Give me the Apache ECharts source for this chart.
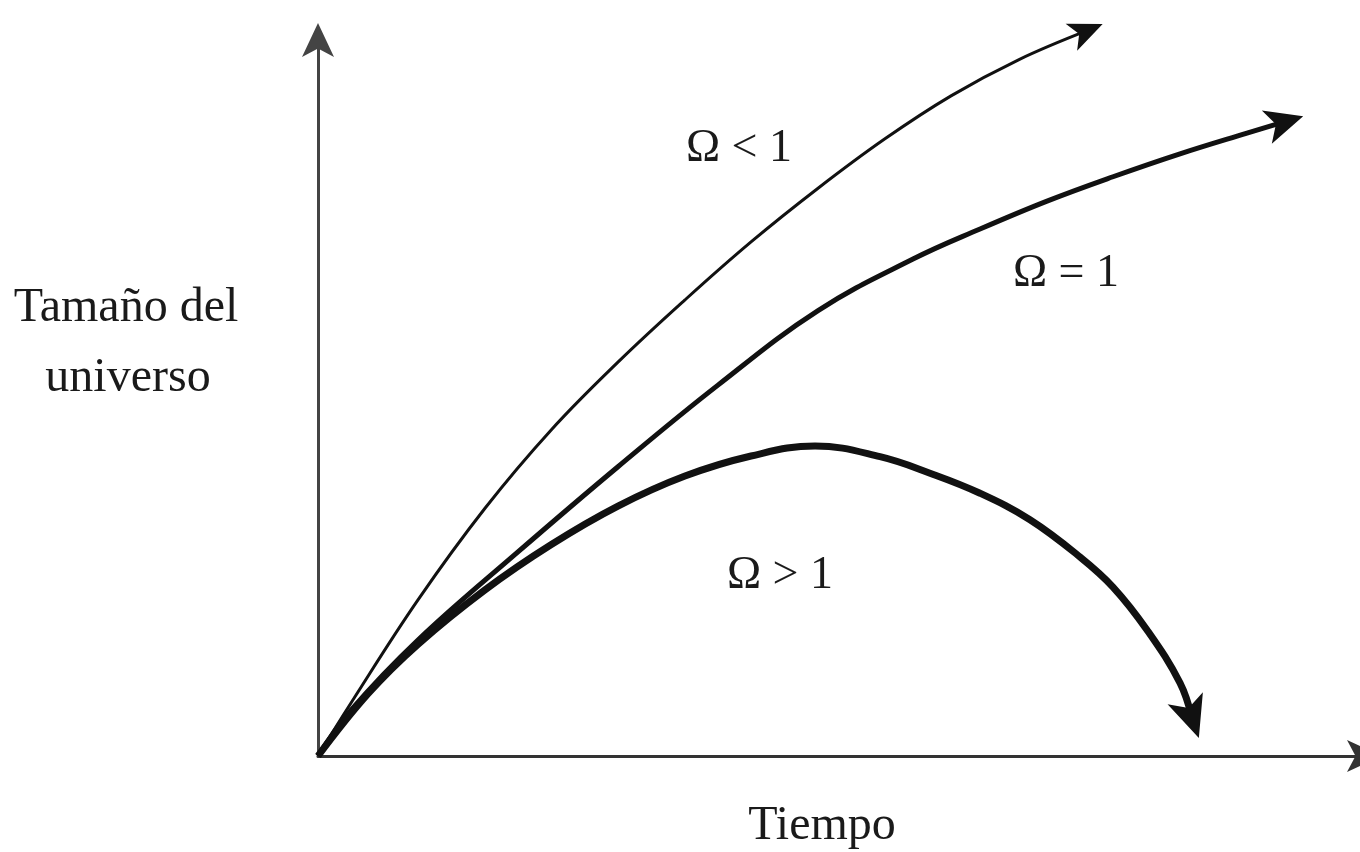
<!DOCTYPE html>
<html>
<head>
<meta charset="utf-8">
<title>Tamaño del universo</title>
<script src="https://cdn.jsdelivr.net/npm/echarts@6/dist/echarts.min.js"></script>
<style>
    html, body { margin: 0; padding: 0; background: #fff; }
    #main { width: 1360px; height: 852px; }
</style>
</head>
<body>
<div id="main"></div>
<script>
// tiempo (x) / tamaño (y); el ultimo punto es el centro de la flecha
var abierto = [[0, 0], [3.15, 7.4], [9.55, 21.8], [15.95, 34.6], [22.25, 45.5], [28.65, 55.0],
    [35.05, 63.7], [41.36, 71.8], [47.76, 79.3], [54.15, 86.2], [60.46, 92.2], [66.86, 97.2],
    [73.45, 101.3]];
var plano = [[0, 0], [3.15, 6.4], [9.55, 16.2], [19.1, 28.5], [28.65, 40.4], [38.2, 51.8],
    [47.76, 62.2], [56.83, 69.4], [63.23, 73.6], [69.63, 77.5], [75.93, 80.9], [82.33, 84.1],
    [88.73, 87.0], [92.36, 88.6]];
var cerrado = [[0, 0], [4.78, 8.7], [9.55, 15.6], [15.95, 23.2], [22.25, 29.5], [28.65, 34.9],
    [35.05, 39.1], [41.36, 41.9], [47.47, 43.3], [53.68, 41.8], [58.45, 39.5], [63.23, 36.7],
    [68.0, 33.0], [72.78, 27.8], [75.93, 23.6], [79.18, 17.6], [82.33, 10.2], [83.48, 5.3]];

var etiquetas = ['Ω < 1', 'Ω = 1', 'Ω > 1'];
var ejeX = 'Tiempo';
var ejeY = ['Tamaño del', 'universo'];

var fuente = '"Liberation Serif", "DejaVu Serif", serif';
var curvas = [abierto, plano, cerrado];
var grosor = [3, 5, 7];
var tamFlecha = [[22, 34], [26, 38], [28, 42]];

function curva(nombre, datos, ancho) {
    return {
        name: nombre,
        type: 'line',
        data: datos,
        smooth: 0.4,
        symbol: 'none',
        clip: false,
        silent: true,
        lineStyle: {color: '#111', width: ancho}
    };
}

function texto(t, x, y, size) {
    return {
        type: 'text',
        x: x,
        y: y,
        style: {
            text: t,
            fill: '#1a1a1a',
            font: size + 'px ' + fuente,
            align: 'center',
            verticalAlign: 'middle'
        }
    };
}

var chart = echarts.init(document.getElementById('main'));

option = {
    backgroundColor: '#fff',
    animation: false,
    grid: {left: 318, right: -5, top: 40, bottom: 96, outerBoundsMode: 'none'},
    xAxis: {
        type: 'value',
        min: 0,
        max: 100,
        axisLine: {
            show: true,
            symbol: ['none', 'arrow'],
            symbolSize: [24, 34],
            symbolOffset: [0, 16],
            lineStyle: {color: '#333', width: 3}
        },
        axisTick: {show: false},
        axisLabel: {show: false},
        splitLine: {show: false}
    },
    yAxis: {
        type: 'value',
        min: 0,
        max: 100,
        axisLine: {
            show: true,
            symbol: ['none', 'arrow'],
            symbolSize: [24, 34],
            symbolOffset: [0, 17],
            lineStyle: {color: '#444', width: 3}
        },
        axisTick: {show: false},
        axisLabel: {show: false},
        splitLine: {show: false}
    },
    series: [
        curva(etiquetas[0], abierto, grosor[0]),
        curva(etiquetas[1], plano, grosor[1]),
        curva(etiquetas[2], cerrado, grosor[2]),
        {
            id: 'flechas',
            type: 'scatter',
            symbol: 'arrow',
            clip: false,
            silent: true,
            z: 3,
            itemStyle: {color: '#111', opacity: 1},
            data: []
        }
    ],
    graphic: [
        texto(etiquetas[0], 739, 149, 46),
        texto(etiquetas[1], 1066, 274, 46),
        texto(etiquetas[2], 780, 576, 46),
        texto(ejeX, 822, 826, 48),
        texto(ejeY[0], 126, 308, 48),
        texto(ejeY[1], 128, 378, 48)
    ]
};

chart.setOption(option);

// girar cada flecha segun el ultimo tramo de su curva y adelantarla media longitud
var flechas = curvas.map(function (c, i) {
    var a = chart.convertToPixel({gridIndex: 0}, c[c.length - 2]);
    var b = chart.convertToPixel({gridIndex: 0}, c[c.length - 1]);
    var dx = b[0] - a[0], dy = b[1] - a[1];
    var len = Math.sqrt(dx * dx + dy * dy);
    var media = tamFlecha[i][1] / 2;
    var rot = Math.atan2(-dx, -dy) * 180 / Math.PI;
    return {
        value: c[c.length - 1],
        symbolSize: tamFlecha[i],
        symbolRotate: rot,
        symbolOffset: [dx / len * media, dy / len * media]
    };
});
chart.setOption({series: [{id: 'flechas', data: flechas}]});
</script>
</body>
</html>
